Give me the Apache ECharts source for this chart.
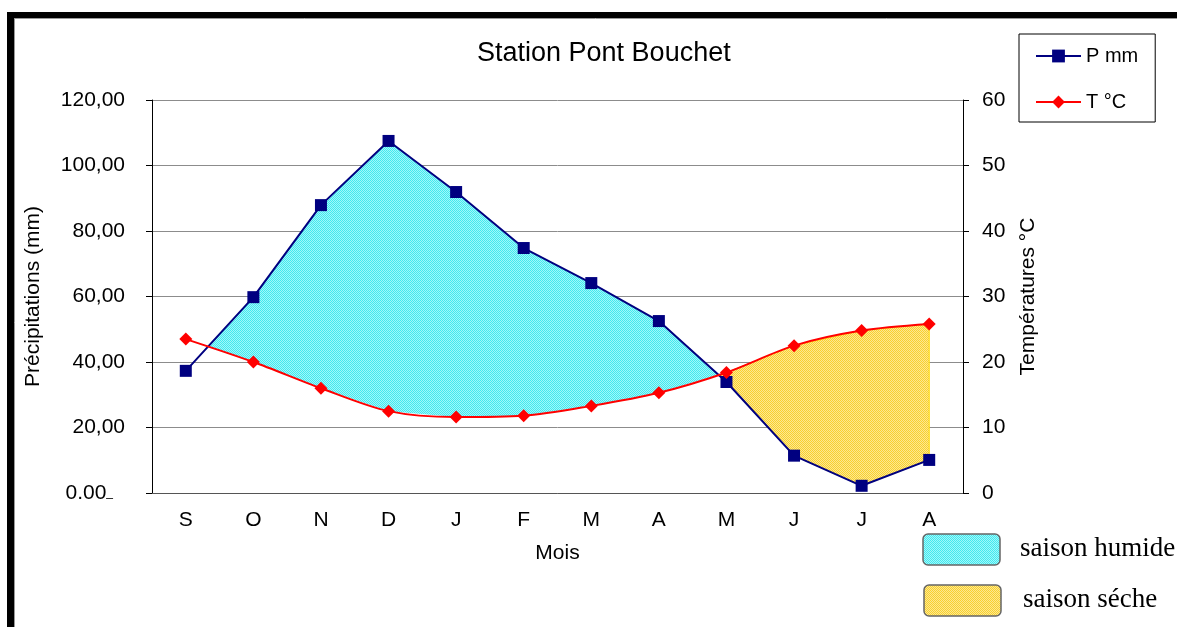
<!DOCTYPE html>
<html>
<head>
<meta charset="utf-8">
<script src="https://cdn.jsdelivr.net/npm/echarts@6/dist/echarts.min.js"></script>
<style>
  html, body { margin: 0; padding: 0; background: #fff; }
  #chart { width: 1177px; height: 627px; }
</style>
</head>
<body>
<div id="chart"></div>
<script>
// months, Sept -> Aug
var months = ["S", "O", "N", "D", "J", "F", "M", "A", "M", "J", "J", "A"];
var precipitation = [37.3, 59.8, 87.9, 107.5, 91.9, 74.8, 64.1, 52.5, 33.9, 11.4, 2.2, 10.1];
var temperature = [23.5, 20.0, 16.0, 12.5, 11.6, 11.8, 13.3, 15.3, 18.4, 22.5, 24.8, 25.8];
var precTicks = [0, 20, 40, 60, 80, 100, 120];
var tempTicks = [0, 10, 20, 30, 40, 50, 60];

var ratio = precTicks[precTicks.length - 1] / tempTicks[tempTicks.length - 1]; // P = 2T

// dithered fill, like the old excel pattern
function checker(color, light) {
  var c = document.createElement("canvas");
  c.width = 2;
  c.height = 2;
  var g = c.getContext("2d");
  g.fillStyle = light;
  g.fillRect(0, 0, 2, 2);
  g.fillStyle = color;
  g.fillRect(0, 0, 1, 1);
  g.fillRect(1, 1, 1, 1);
  return { image: c, repeat: "repeat" };
}
var humidFill = checker("#44e8ee", "#a0f8fa");
var dryFill = checker("#f8d030", "#fde890");

// polygons between the P line and the 2T line, in pixels
function seasonPolys(api, sign) {
  var n = months.length;
  var pP = [], pT = [], d = [];
  for (var i = 0; i < n; i++) {
    pP.push(api.coord([i, precipitation[i]]));
    pT.push(api.coord([i, temperature[i] * ratio]));
    d.push(sign * (precipitation[i] - temperature[i] * ratio));
  }
  var polys = [], top = null, bot = null;
  for (var i = 0; i < n; i++) {
    if (d[i] >= 0) {
      if (!top) { top = []; bot = []; }
      top.push(pP[i]);
      bot.push(pT[i]);
    }
    if (i < n - 1 && (d[i] >= 0) !== (d[i + 1] >= 0)) {
      var t = d[i] / (d[i] - d[i + 1]);
      var c = [pP[i][0] + t * (pP[i + 1][0] - pP[i][0]), pP[i][1] + t * (pP[i + 1][1] - pP[i][1])];
      if (d[i] >= 0) {
        top.push(c);
        polys.push(top.concat(bot.reverse()));
        top = null;
      } else {
        top = [c];
        bot = [];
      }
    }
  }
  if (top) polys.push(top.concat(bot.reverse()));
  // only the real seasons, not tiny slivers
  return polys.filter(function (p) { return p.length > 3; });
}

var chart = echarts.init(document.getElementById("chart"), null, { renderer: "canvas" });

var font = "'Liberation Sans', Arial, sans-serif";

var option = {
  animation: false,
  textStyle: { fontFamily: font },
  title: {
    text: "Station Pont Bouchet",
    left: 472,
    top: 35,
    textStyle: { fontFamily: font, fontSize: 27, fontWeight: "normal", color: "#000" }
  },
  legend: {
    data: ["P mm", "T °C"],
    orient: "vertical",
    left: 1019,
    top: 34,
    padding: [12, 17, 10, 16],
    itemWidth: 45,
    itemHeight: 16,
    itemGap: 26,
    borderColor: "#000",
    borderWidth: 1,
    textStyle: { fontFamily: font, fontSize: 20, color: "#000" }
  },
  grid: { left: 152, right: 214, top: 100, bottom: 134 },
  xAxis: {
    type: "category",
    data: months,
    boundaryGap: true,
    name: "Mois",
    nameLocation: "middle",
    nameGap: 50,
    nameTextStyle: { fontFamily: font, fontSize: 21, color: "#000" },
    axisLine: { lineStyle: { color: "#555", width: 1 } },
    axisTick: { show: false },
    axisLabel: { fontFamily: font, fontSize: 21, color: "#000", margin: 17 }
  },
  yAxis: [
    {
      type: "value",
      min: 0,
      max: 120,
      interval: 20,
      name: "Précipitations (mm)",
      nameLocation: "middle",
      nameRotate: 90,
      nameGap: 108,
      nameTextStyle: { fontFamily: font, fontSize: 21, color: "#000" },
      axisLine: { show: true, lineStyle: { color: "#000", width: 1 } },
      axisTick: { show: true, length: 6, lineStyle: { color: "#000" } },
      axisLabel: {
        fontFamily: font,
        fontSize: 21,
        color: "#000",
        margin: 27,
        formatter: function (v) {
          if (v === 0) return "{z|0.00}{u|_}";
          return v.toFixed(2).replace(".", ",");
        },
        rich: {
          z: { fontFamily: font, fontSize: 21, color: "#000" },
          u: { fontFamily: font, fontSize: 12, color: "#000", padding: [0, 12, 0, 0] }
        }
      },
      splitLine: { show: true, lineStyle: { color: "#8c8c8c", width: 1 } }
    },
    {
      type: "value",
      min: 0,
      max: 60,
      interval: 10,
      name: "Températures °C",
      nameLocation: "middle",
      nameRotate: 90,
      nameGap: 55,
      nameTextStyle: { fontFamily: font, fontSize: 21, color: "#000" },
      axisLine: { show: true, lineStyle: { color: "#000", width: 1 } },
      axisTick: { show: true, length: 6, lineStyle: { color: "#000" } },
      axisLabel: { fontFamily: font, fontSize: 21, color: "#000", margin: 19 },
      splitLine: { show: false }
    }
  ],
  series: [
    {
      name: "saisons",
      type: "custom",
      silent: true,
      z: 1,
      data: [0],
      renderItem: function (params, api) {
        if (params.dataIndex !== 0) return;
        var children = [];
        seasonPolys(api, 1).forEach(function (p) {
          children.push({ type: "polygon", shape: { points: p }, style: { fill: humidFill, stroke: null } });
        });
        seasonPolys(api, -1).forEach(function (p) {
          children.push({ type: "polygon", shape: { points: p }, style: { fill: dryFill, stroke: "#ffd800", lineWidth: 1 } });
        });
        return { type: "group", children: children };
      }
    },
    {
      name: "P mm",
      type: "line",
      yAxisIndex: 0,
      data: precipitation,
      z: 3,
      symbol: "rect",
      symbolSize: 12,
      lineStyle: { color: "#000080", width: 2 },
      itemStyle: { color: "#000080" }
    },
    {
      name: "T °C",
      type: "line",
      yAxisIndex: 1,
      data: temperature,
      z: 4,
      smooth: 0.3,
      symbol: "diamond",
      symbolSize: 13,
      lineStyle: { color: "#ff0000", width: 2 },
      itemStyle: { color: "#ff0000" }
    }
  ],
  graphic: [
    // frame
    { type: "rect", shape: { x: 7, y: 12, width: 1170, height: 6 }, style: { fill: "#000" } },
    { type: "rect", shape: { x: 7, y: 12, width: 7, height: 615 }, style: { fill: "#000" } },
    { type: "line", shape: { x1: 14, y1: 18.5, x2: 1177, y2: 18.5 }, style: { stroke: "#999", lineWidth: 1 } },
    { type: "line", shape: { x1: 14.5, y1: 18, x2: 14.5, y2: 627 }, style: { stroke: "#999", lineWidth: 1 } },
    // season key
    { type: "rect", shape: { x: 923, y: 534, width: 77, height: 31, r: 5 }, style: { fill: humidFill, stroke: "#666", lineWidth: 1.5 } },
    { type: "text", x: 1020, y: 549, style: { text: "saison humide", font: "27px 'Liberation Serif', 'Times New Roman', serif", fill: "#000", verticalAlign: "middle" } },
    { type: "rect", shape: { x: 924, y: 585, width: 77, height: 31, r: 5 }, style: { fill: dryFill, stroke: "#666", lineWidth: 1.5 } },
    { type: "text", x: 1023, y: 600, style: { text: "saison séche", font: "27px 'Liberation Serif', 'Times New Roman', serif", fill: "#000", verticalAlign: "middle" } }
  ]
};

chart.setOption(option);
window.addEventListener("resize", chart.resize);
</script>
</body>
</html>
